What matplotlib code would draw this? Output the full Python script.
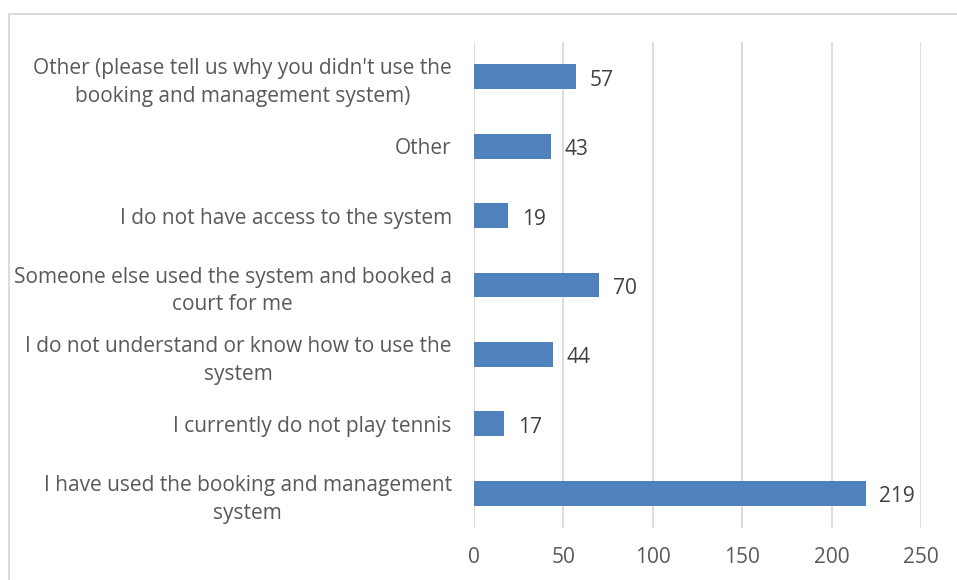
import matplotlib.pyplot as plt
from matplotlib.patches import Rectangle

# categories listed bottom to top
categories = [
    "I have used the booking and management\nsystem",
    "I currently do not play tennis",
    "I do not understand or know how to use the\nsystem",
    "Someone else used the system and booked a\ncourt for me",
    "I do not have access to the system",
    "Other",
    "Other (please tell us why you didn't use the\nbooking and management system)",
]
counts = [219, 17, 44, 70, 19, 43, 57]
xticks = [0, 50, 100, 150, 200, 250]

plt.rcParams['font.family'] = ['Open Sans', 'DejaVu Sans']

fig = plt.figure(figsize=(9.57, 5.8), dpi=100)
ax = fig.add_axes([474 / 957, 1 - 528 / 580, (921 - 474) / 957, (528 - 42) / 580])

pos = range(len(categories))
ax.barh(pos, counts, height=0.36, color='#4F81BD', zorder=3)

for y, v in zip(pos, counts):
    ax.annotate(str(v), (v, y), xytext=(10, -2.5), textcoords='offset points',
                ha='left', va='center', fontsize=15, color='#404040')

ax.set_xlim(0, 250)
ax.set_ylim(-0.5, len(categories) - 0.5)
ax.set_xticks(xticks)
ax.set_xticklabels([str(t) for t in xticks], fontsize=15, color='#595959')
ax.set_yticks(list(pos))
ax.set_yticklabels(categories, fontsize=15, color='#595959', linespacing=1.42)
for t in ax.get_yticklabels():
    t.set_multialignment('center')
ax.tick_params(axis='y', length=0, pad=16)
ax.tick_params(axis='x', length=0, pad=14)

ax.grid(axis='x', color='#D9D9D9', linewidth=1.3, zorder=0)
for s in ax.spines.values():
    s.set_visible(False)

# chart border
fig.patches.append(Rectangle((9 / 957, -0.1), 1.2, 1 - 14 / 580 + 0.1,
                             transform=fig.transFigure, fill=False,
                             edgecolor='#D9D9D9', linewidth=1.3))

fig.savefig('out.png', dpi=100)
